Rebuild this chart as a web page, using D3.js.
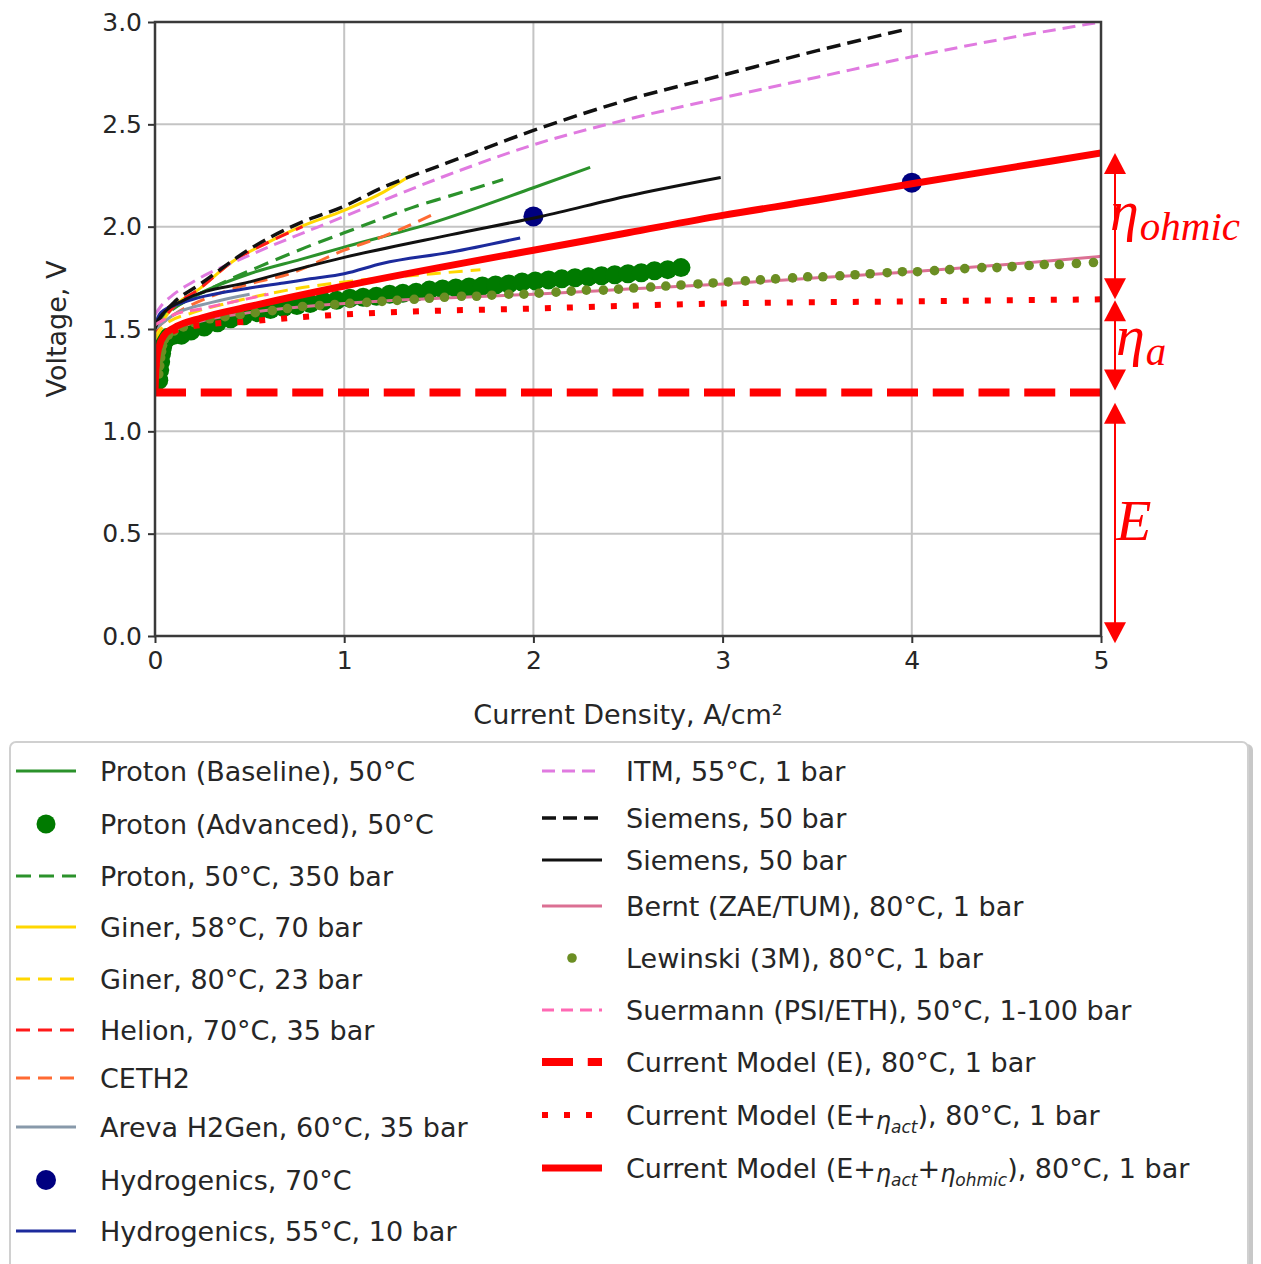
<!DOCTYPE html>
<html>
<head>
<meta charset="utf-8">
<script src="https://cdn.jsdelivr.net/npm/d3@7"></script>
<style>
  html, body { margin: 0; padding: 0; background: #ffffff; }
  svg { display: block; }
  text { font-family: "DejaVu Sans", sans-serif; fill: #262626; }
</style>
</head>
<body>
<svg id="chart" width="1261" height="1264"></svg>
<script>
// ---- polarisation curves: [current density A/cm², cell voltage V] ----
const protonBaseline = [[0,1.52],[0.05,1.57],[0.15,1.63],[0.5,1.77],[0.77,1.84],[1,1.9],[1.47,2.02],[2,2.19],[2.3,2.29]];
const protonAdvanced = [[0.02,1.25],[0.025,1.3],[0.03,1.34],[0.035,1.38],[0.04,1.41],[0.05,1.44],[0.07,1.46],[0.1,1.47],[0.14,1.47],[0.19,1.49],[0.26,1.51],[0.33,1.53],[0.4,1.55],[0.47,1.565],[0.54,1.58],[0.61,1.595],[0.68,1.605],[0.75,1.615],[0.82,1.625],[0.89,1.635],[0.96,1.64],[1.03,1.65],[1.1,1.655],[1.17,1.66],[1.24,1.67],[1.31,1.675],[1.38,1.68],[1.45,1.69],[1.52,1.695],[1.59,1.7],[1.66,1.705],[1.73,1.71],[1.8,1.715],[1.87,1.72],[1.94,1.73],[2.01,1.735],[2.08,1.74],[2.15,1.745],[2.22,1.75],[2.29,1.755],[2.36,1.76],[2.43,1.765],[2.5,1.77],[2.57,1.775],[2.64,1.785],[2.71,1.79],[2.78,1.8]];
const proton350 = [[0,1.52],[0.1,1.6],[0.3,1.7],[0.59,1.82],[0.8,1.9],[1,1.97],[1.2,2.04],[1.38,2.1],[1.54,2.145],[1.84,2.23]];
const giner58 = [[0,1.48],[0.08,1.59],[0.24,1.7],[0.41,1.83],[0.59,1.92],[0.77,2.0],[1,2.08],[1.21,2.17],[1.35,2.25]];
const giner80 = [[0,1.45],[0.05,1.52],[0.2,1.58],[0.4,1.63],[0.7,1.69],[1,1.73],[1.47,1.77],[1.72,1.79]];
const helion = [[0,1.49],[0.08,1.59],[0.24,1.7],[0.41,1.83],[0.59,1.92],[0.78,2.0]];
const ceth2 = [[0,1.5],[0.1,1.57],[0.3,1.66],[0.5,1.72],[0.71,1.77],[1,1.885],[1.2,1.95],[1.47,2.06]];
const areva = [[0,1.5],[0.1,1.57],[0.3,1.63],[0.5,1.67]];
const hydrogenics70 = [[2,2.05],[4,2.215]];
const hydrogenics55 = [[0,1.52],[0.03,1.58],[0.15,1.63],[0.5,1.7],[0.68,1.725],[0.82,1.745],[1,1.77],[1.2,1.82],[1.56,1.875],[1.93,1.945]];
const itm = [[0,1.57],[0.03,1.61],[0.1,1.67],[0.2,1.73],[0.5,1.86],[1,2.05],[1.54,2.25],[2,2.4],[2.5,2.525],[3,2.63],[3.5,2.73],[4,2.83],[4.5,2.92],[5,3.0]];
const siemensHP = [[0,1.52],[0.03,1.56],[0.1,1.63],[0.24,1.72],[0.5,1.89],[0.77,2.02],[1,2.1],[1.2,2.19],[1.54,2.31],[2,2.47],[2.5,2.62],[3,2.74],[3.5,2.86],[3.95,2.96]];
const siemens = [[0,1.5],[0.03,1.56],[0.15,1.64],[0.5,1.73],[1,1.85],[1.56,1.96],[2.04,2.05],[2.5,2.15],[2.99,2.24]];
const bernt = [[0,1.3],[0.03,1.42],[0.1,1.49],[0.25,1.54],[0.5,1.58],[1,1.625],[1.5,1.65],[2,1.67],[2.5,1.695],[3,1.72],[3.5,1.75],[4,1.78],[4.5,1.815],[5,1.855]];
const lewinski = [[0.02,1.28],[0.025,1.32],[0.03,1.36],[0.035,1.39],[0.04,1.42],[0.05,1.45],[0.07,1.47],[0.1,1.49],[0.15,1.51],[0.21,1.53],[0.29,1.55],[0.37,1.56],[0.45,1.57],[0.53,1.58],[0.62,1.59],[0.7,1.6],[0.78,1.61],[0.87,1.615],[0.95,1.62],[1.03,1.625],[1.12,1.63],[1.2,1.635],[1.28,1.64],[1.37,1.645],[1.45,1.65],[1.53,1.655],[1.62,1.66],[1.7,1.66],[1.78,1.665],[1.87,1.67],[1.95,1.67],[2.03,1.675],[2.12,1.68],[2.2,1.685],[2.28,1.69],[2.37,1.69],[2.45,1.695],[2.53,1.7],[2.62,1.705],[2.7,1.71],[2.78,1.715],[2.87,1.72],[2.95,1.725],[3.03,1.73],[3.12,1.735],[3.2,1.74],[3.28,1.745],[3.37,1.75],[3.45,1.755],[3.53,1.755],[3.62,1.76],[3.7,1.765],[3.78,1.77],[3.87,1.775],[3.95,1.78],[4.03,1.78],[4.12,1.785],[4.2,1.79],[4.28,1.795],[4.37,1.8],[4.45,1.8],[4.53,1.805],[4.62,1.81],[4.7,1.815],[4.78,1.815],[4.87,1.82],[4.96,1.825]];
const suermann = [[0,1.52],[0.1,1.57],[0.25,1.6],[0.45,1.64],[0.6,1.67]];
const modelE = [[0,1.19],[5,1.19]];
const modelAct = [[0.005,1.3],[0.02,1.4],[0.05,1.46],[0.1,1.49],[0.25,1.52],[0.47,1.535],[0.8,1.56],[1.2,1.58],[2,1.6],[3,1.625],[4,1.635],[5,1.645]];
const modelFull = [[0,1.19],[0.005,1.31],[0.02,1.41],[0.05,1.47],[0.1,1.505],[0.25,1.555],[0.5,1.61],[1,1.71],[1.5,1.8],[2,1.885],[2.5,1.97],[3,2.055],[3.5,2.13],[4,2.21],[4.5,2.285],[5,2.36]];

// axis ticks
const xTicks = [0,1,2,3,4,5];
const yTicks = [0,0.5,1,1.5,2,2.5,3];

// overpotential brackets drawn on the right-hand side [top V, bottom V]
const bracketOhmic = [2.36, 1.645];
const bracketAct = [1.64, 1.2];
const bracketE = [1.14, -0.035];

// ---- series styling (in drawing order) ----
const series = [
  {label:"Proton (Baseline), 50°C", data:protonBaseline, kind:"line", color:"#2b922b", width:3, dash:null, col:0},
  {label:"Proton (Advanced), 50°C", data:protonAdvanced, kind:"dot", color:"#007a00", r:9.5, col:0},
  {label:"Proton, 50°C, 350 bar", data:proton350, kind:"line", color:"#2b922b", width:3.2, dash:"15,8", col:0},
  {label:"Giner, 58°C, 70 bar", data:giner58, kind:"line", color:"#ffd700", width:3, dash:null, col:0},
  {label:"Giner, 80°C, 23 bar", data:giner80, kind:"line", color:"#ffd700", width:3, dash:"14,8", col:0},
  {label:"Helion, 70°C, 35 bar", data:helion, kind:"line", color:"#ff1a1a", width:3, dash:"14,8", col:0},
  {label:"CETH2", data:ceth2, kind:"line", color:"#ff6a33", width:3, dash:"14,8", col:0},
  {label:"Areva H2Gen, 60°C, 35 bar", data:areva, kind:"line", color:"#8899aa", width:3, dash:null, col:0},
  {label:"Hydrogenics, 70°C", data:hydrogenics70, kind:"dot", color:"#000080", r:10, col:0},
  {label:"Hydrogenics, 55°C, 10 bar", data:hydrogenics55, kind:"line", color:"#1c2a9c", width:3, dash:null, col:0},
  {label:"ITM, 55°C, 1 bar", data:itm, kind:"line", color:"#e07ae0", width:3, dash:"13,7", col:1},
  {label:"Siemens, 50 bar", data:siemensHP, kind:"line", color:"#111111", width:3.5, dash:"14,7", col:1},
  {label:"Siemens, 50 bar", data:siemens, kind:"line", color:"#111111", width:3, dash:null, col:1},
  {label:"Bernt (ZAE/TUM), 80°C, 1 bar", data:bernt, kind:"line", color:"#db7093", width:3, dash:null, col:1},
  {label:"Lewinski (3M), 80°C, 1 bar", data:lewinski, kind:"dot", color:"#6b8e23", r:4.8, col:1},
  {label:"Suermann (PSI/ETH), 50°C, 1-100 bar", data:suermann, kind:"line", color:"#ff69b4", width:3, dash:"12,7", col:1},
  {label:["Current Model (E), 80°C, 1 bar"], data:modelE, kind:"line", color:"#ff0000", width:8, dash:"31,14.75", col:1},
  {label:["Current Model (E+", ["η","act"], "), 80°C, 1 bar"], data:modelAct, kind:"line", color:"#ff0000", width:6, dash:"6,16", col:1},
  {label:["Current Model (E+", ["η","act"], "+", ["η","ohmic"], "), 80°C, 1 bar"], data:modelFull, kind:"line", color:"#ff0000", width:7, dash:null, col:1}
];

const svg = d3.select("#chart");
const x = d3.scaleLinear().domain([0,5]).range([155,1101]);
const y = d3.scaleLinear().domain([0,3]).range([636,22]);

// clip for the plotting area
svg.append("defs").append("clipPath").attr("id","plotClip")
  .append("rect").attr("x",x(0)).attr("y",y(3)).attr("width",x(5)-x(0)).attr("height",y(0)-y(3));

// grid
const grid = svg.append("g");
grid.selectAll("line.vx").data(xTicks).join("line")
  .attr("x1",d=>x(d)).attr("x2",d=>x(d)).attr("y1",y(0)).attr("y2",y(3))
  .attr("stroke","#c4c4c4").attr("stroke-width",2);
grid.selectAll("line.hy").data(yTicks).join("line")
  .attr("y1",d=>y(d)).attr("y2",d=>y(d)).attr("x1",x(0)).attr("x2",x(5))
  .attr("stroke","#c4c4c4").attr("stroke-width",2);

// data
const plot = svg.append("g").attr("clip-path","url(#plotClip)");
const line = d3.line().x(d=>x(d[0])).y(d=>y(d[1])).curve(d3.curveMonotoneX);
series.forEach(s => {
  if (s.kind === "line") {
    plot.append("path").attr("d", line(s.data))
      .attr("fill","none").attr("stroke",s.color).attr("stroke-width",s.width)
      .attr("stroke-dasharray", s.dash).attr("stroke-linejoin","round");
  } else {
    plot.append("g").selectAll("circle").data(s.data).join("circle")
      .attr("cx",d=>x(d[0])).attr("cy",d=>y(d[1])).attr("r",s.r).attr("fill",s.color);
  }
});

// axes
const axL = svg.append("g").attr("transform",`translate(${x(0)},0)`)
  .call(d3.axisLeft(y).tickValues(yTicks).tickFormat(d3.format(".1f")).tickSize(7).tickPadding(6));
const axB = svg.append("g").attr("transform",`translate(0,${y(0)})`)
  .call(d3.axisBottom(x).tickValues(xTicks).tickFormat(d3.format("d")).tickSize(7).tickPadding(8));
[axL, axB].forEach(a => {
  a.select(".domain").remove();
  a.selectAll(".tick line").attr("stroke","#333").attr("stroke-width",2);
  a.selectAll(".tick text").style("font-size","25px").style("font-family","DejaVu Sans").attr("fill","#262626");
});

// frame
svg.append("rect").attr("x",x(0)).attr("y",y(3)).attr("width",x(5)-x(0)).attr("height",y(0)-y(3))
  .attr("fill","none").attr("stroke","#3a3a3a").attr("stroke-width",2.5);

// axis titles
svg.append("text").attr("x",(x(0)+x(5))/2).attr("y",724).attr("text-anchor","middle")
  .style("font-size","27px").text("Current Density, A/cm²");
svg.append("text").attr("transform",`translate(66,${(y(0)+y(3))/2}) rotate(-90)`)
  .attr("text-anchor","middle").style("font-size","27px").text("Voltage, V");

// brackets with arrowheads
const bx = 1115;
function bracket(range) {
  const top = y(range[0]), bot = y(range[1]);
  const g = svg.append("g").attr("fill","#ff0000").attr("stroke","#ff0000");
  g.append("line").attr("x1",bx).attr("x2",bx).attr("y1",top+10).attr("y2",bot-10).attr("stroke-width",2);
  g.append("path").attr("stroke","none").attr("d",`M${bx},${top} L${bx-11},${top+21} L${bx+11},${top+21} Z`);
  g.append("path").attr("stroke","none").attr("d",`M${bx},${bot} L${bx-11},${bot-21} L${bx+11},${bot-21} Z`);
}
[bracketOhmic, bracketAct, bracketE].forEach(bracket);

function mathLabel(xp, yp, main, sub) {
  const t = svg.append("text").attr("x",xp).attr("y",yp)
    .style("font-family","Liberation Serif, serif").style("font-style","italic")
    .attr("fill","#ff0000").style("fill","#ff0000");
  t.append("tspan").style("font-size","58px").text(main);
  if (sub) t.append("tspan").style("font-size","41px").attr("dy",10).attr("dx",1).text(sub);
}
mathLabel(1110, 230, "η", "ohmic");
mathLabel(1116, 355, "η", "a");
mathLabel(1116, 540, "E", null);

// legend
const lg = svg.append("g");
lg.append("rect").attr("x",13).attr("y",744).attr("width",1240).attr("height",540).attr("rx",6)
  .attr("fill","#9a9a9a").attr("opacity",0.55);
lg.append("rect").attr("x",10).attr("y",742).attr("width",1238).attr("height",540).attr("rx",6)
  .attr("fill","#ffffff").attr("stroke","#d0d0d0").attr("stroke-width",2);

const rowY = [[771,824,876,927,979,1030,1078,1127,1180,1231],[771,818,860,906,958,1010,1062,1115,1168]];
const handleX = [[16,76],[542,602]];
const textX = [100,626];
const counters = [0,0];
series.forEach(s => {
  const c = s.col, i = counters[c]++;
  const cy = rowY[c][i], hx = handleX[c];
  if (s.kind === "line") {
    lg.append("line").attr("x1",hx[0]).attr("x2",hx[1]).attr("y1",cy).attr("y2",cy)
      .attr("stroke",s.color).attr("stroke-width",s.width).attr("stroke-dasharray", s.dash);
  } else {
    lg.append("circle").attr("cx",(hx[0]+hx[1])/2).attr("cy",cy).attr("r",s.r).attr("fill",s.color);
  }
  const t = lg.append("text").attr("x",textX[c]).attr("y",cy+10).style("font-size","27px");
  const parts = Array.isArray(s.label) ? s.label : [s.label];
  let shift = 0;   // accumulated baseline offset from subscripts
  parts.forEach(p => {
    if (typeof p === "string") {
      t.append("tspan").attr("dy",-shift).text(p);
      shift = 0;
    } else {
      t.append("tspan").style("font-style","italic").style("font-size","24px").attr("dy",4-shift).text(p[0]);
      t.append("tspan").style("font-style","italic").style("font-size","17px").attr("dy",4).text(p[1]);
      shift = 8;
    }
  });
});
</script>
</body>
</html>
